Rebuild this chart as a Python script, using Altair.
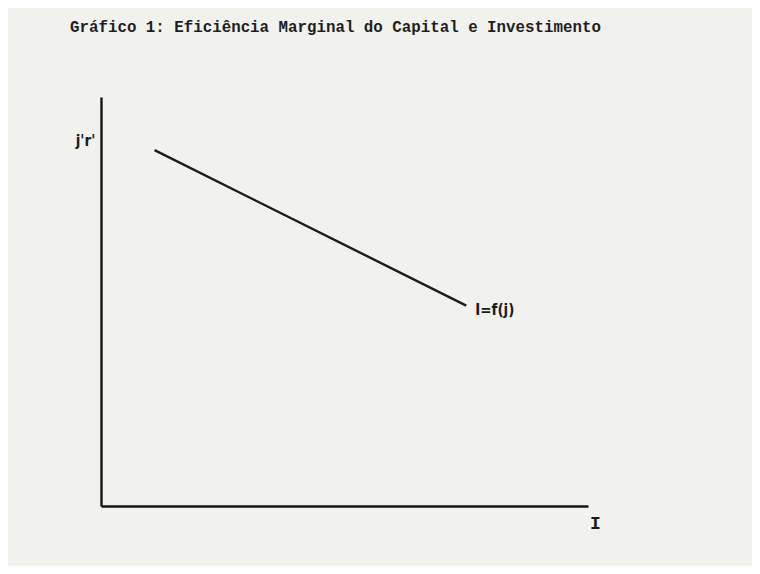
import altair as alt
import pandas as pd

# Investment curve I = f(j): endpoints (abstract units 0-10)
invest = [1.1, 7.5]
rate = [8.7, 4.9]
curve_label = ["", "I=f(j)"]

df = pd.DataFrame({"I": invest, "j": rate, "label": curve_label})

xs = alt.Scale(domain=[0, 10], nice=False, zero=False)
ys = alt.Scale(domain=[0, 10], nice=False, zero=False)

narrow = "DejaVu Sans Condensed, Liberation Sans, sans-serif"

line = alt.Chart(df).mark_line(color="#1c1c1c", strokeWidth=2.4).encode(
    x=alt.X("I:Q", scale=xs, axis=alt.Axis(
        title="I", labels=False, ticks=False, grid=False,
        domainColor="#161616", domainWidth=2.6,
        titleFont="Liberation Mono", titleFontSize=18, titleFontWeight="bold",
        titleColor="#1a1a1a", titleX=494, titleY=8, titleAlign="center")),
    y=alt.Y("j:Q", scale=ys, axis=alt.Axis(
        title="j'r'", labels=False, ticks=False, grid=False,
        domainColor="#161616", domainWidth=2.4,
        titleAngle=0, titleFont=narrow, titleFontSize=15,
        titleFontWeight="bold", titleColor="#1a1a1a",
        titleX=-16, titleY=51, titleAlign="center")),
)

lbl = alt.Chart(df).mark_text(
    align="left", baseline="middle", dx=9, dy=4,
    font=narrow, fontSize=15, fontWeight="bold", color="#1a1a1a"
).encode(x=alt.X("I:Q", scale=xs), y=alt.Y("j:Q", scale=ys), text="label:N")

chart = alt.layer(line, lbl).properties(
    width=487, height=409,
    title=alt.TitleParams(
        "Gráfico 1: Eficiência Marginal do Capital e Investimento",
        anchor="start", frame="group", dx=-31, offset=61,
        font="Liberation Mono", fontSize=15.8, fontWeight="bold", color="#1e1e1e"),
    autosize=alt.AutoSizeParams(type="none"),
    padding={"left": 93, "top": 89, "right": 164, "bottom": 60},
    background="#f1f1ee",
).configure_view(stroke=None)

chart.save("out.html", embed_options={"renderer": "svg", "actions": False})
